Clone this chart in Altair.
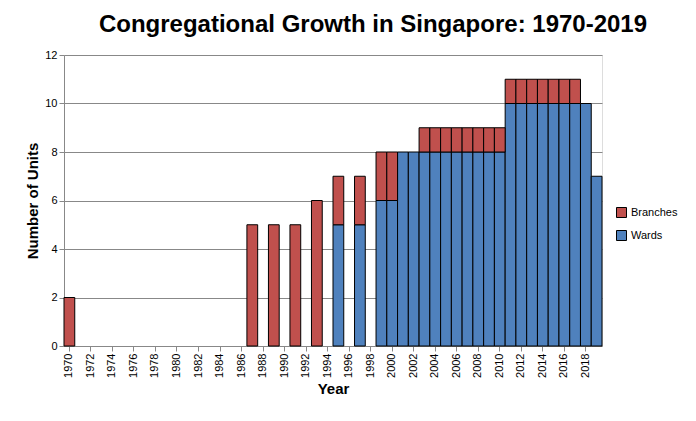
import altair as alt
import pandas as pd

years = list(range(1970, 2020))
wards = {1995: 5, 1997: 5, 1999: 6, 2000: 6, 2001: 8, 2002: 8,
         2003: 8, 2004: 8, 2005: 8, 2006: 8, 2007: 8, 2008: 8, 2009: 8, 2010: 8,
         2011: 10, 2012: 10, 2013: 10, 2014: 10, 2015: 10, 2016: 10, 2017: 10,
         2018: 10, 2019: 7}
branches = {1970: 2, 1987: 5, 1989: 5, 1991: 5, 1993: 6, 1995: 2, 1997: 2,
            1999: 2, 2000: 2, 2003: 1, 2004: 1, 2005: 1, 2006: 1, 2007: 1,
            2008: 1, 2009: 1, 2010: 1, 2011: 1, 2012: 1, 2013: 1, 2014: 1,
            2015: 1, 2016: 1, 2017: 1}

rows = []
for y, v in wards.items():
    rows.append({"Year": str(y), "Type": "Wards", "Units": v, "ord": 0})
for y, v in branches.items():
    rows.append({"Year": str(y), "Type": "Branches", "Units": v, "ord": 1})
df = pd.DataFrame(rows)

chart = alt.Chart(df).mark_bar(stroke="black", strokeWidth=1).encode(
    x=alt.X("Year:N", scale=alt.Scale(domain=[str(y) for y in years], paddingInner=0, paddingOuter=0),
            axis=alt.Axis(title="Year", values=[str(y) for y in years if y % 2 == 0],
                          labelAngle=-90, labelFontSize=11, titleFontSize=15, titleFontWeight="bold",
                          labelColor="black", titleColor="black", domainColor="#888", tickColor="#888")),
    y=alt.Y("sum(Units):Q", stack="zero",
            scale=alt.Scale(domain=[0, 12]),
            axis=alt.Axis(title="Number of Units", values=list(range(0, 13, 2)), labelFontSize=11,
                          titleFontSize=15, titleFontWeight="bold", labelColor="black",
                          titleColor="black", gridColor="#888", domainColor="#888", tickColor="#888")),
    color=alt.Color("Type:N", scale=alt.Scale(domain=["Branches", "Wards"], range=["#C0504D", "#4F81BD"]),
                    legend=alt.Legend(title=None, symbolType="square", symbolStrokeColor="black",
                                      symbolStrokeWidth=1, labelFontSize=11, labelColor="black",
                                      orient="none", legendX=552, legendY=152, rowPadding=8)),
    order=alt.Order("ord:Q"),
).properties(
    width=538, height=291,
    padding={"left": 17, "top": 5, "right": 5, "bottom": 5},
    title=alt.TitleParams("Congregational Growth in Singapore: 1970-2019", fontSize=24,
                          fontWeight="bold", color="black", anchor="middle", offset=12, dx=40),
).configure_view(stroke="#888").configure(font="Liberation Sans")

chart.save("out.html", embed_options={"renderer": "svg", "actions": False})
